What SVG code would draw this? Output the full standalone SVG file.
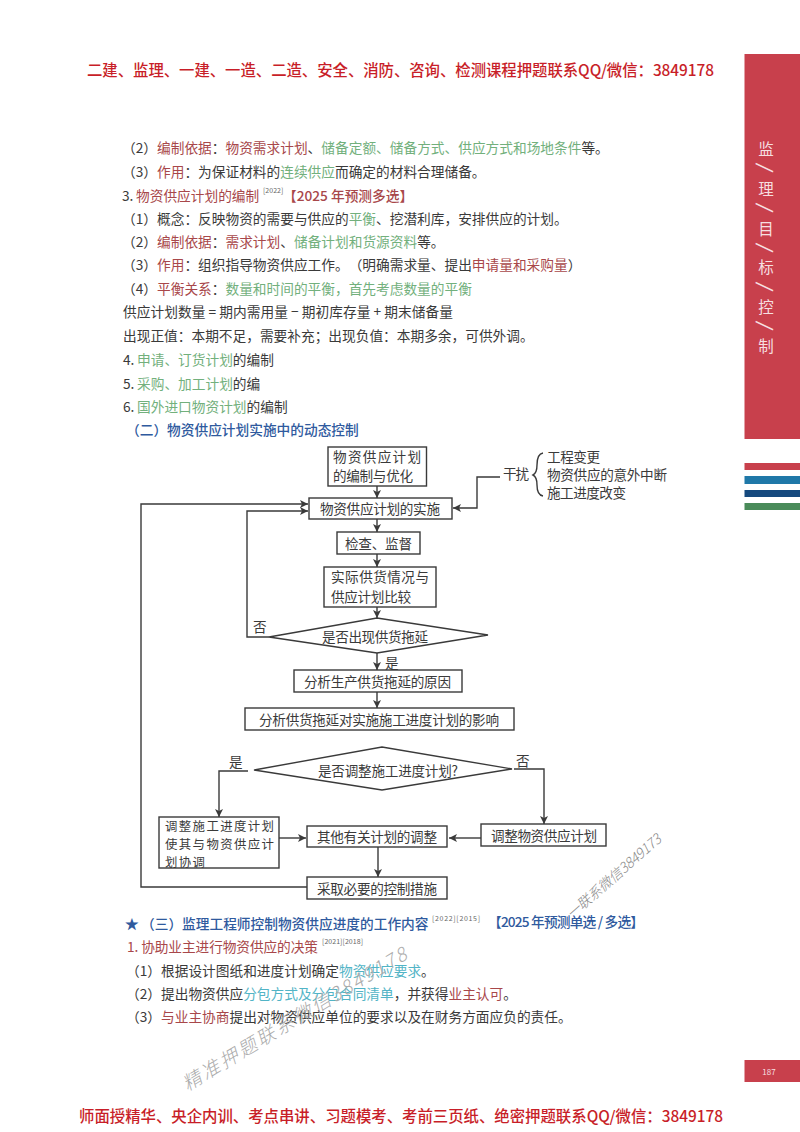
<svg xmlns="http://www.w3.org/2000/svg" width="800" height="1132" viewBox="0 0 800 1132">
<style>
text{font-family:"Noto Sans CJK SC","Noto Sans",sans-serif;dominant-baseline:central;text-spacing-trim:space-all}
.b{font-size:13.7px;fill:#3a3a3a}
.r{fill:#a8474a}
.g{fill:#72b07c}
.t{fill:#52b4c6}
.h{fill:#2f5a9e;font-weight:500}
.s{font-size:7px;fill:#666}
.f{font-size:13.6px;fill:#3a3a3a}
.f3{font-size:12.4px;fill:#3a3a3a}
.top{font-size:15.4px;fill:#c81e28;font-weight:500}
.side{font-size:15.5px;fill:#f6dfe0;text-anchor:middle}
.sl{font-size:19px;fill:#f6dfe0;text-anchor:middle;font-weight:500}
.wm{font-style:italic;fill:#ababab;font-weight:300}
.n{fill:#fff;stroke:#3a3a3a;stroke-width:1.4}
.c{fill:none;stroke:#3a3a3a;stroke-width:1.4}
.a{marker-end:url(#ah)}
</style>
<defs>
<marker id="ah" markerWidth="9" markerHeight="8" refX="8" refY="4" orient="auto" markerUnits="userSpaceOnUse"><path d="M0,0 L8,4 L0,8 L2,4 Z" fill="#3a3a3a"/></marker>
</defs>
<rect width="800" height="1132" fill="#fff"/>
<text class="top" x="87" y="68.500" textLength="627">二建、监理、一建、一造、二造、安全、消防、咨询、检测课程押题联系QQ/微信：3849178</text>
<text class="top" x="79" y="1115" textLength="644">师面授精华、央企内训、考点串讲、习题模考、考前三页纸、绝密押题联系QQ/微信：3849178</text>

<g id="side-tab">
<rect x="744.5" y="54" width="55.5" height="385" fill="#c8404c"/>
<text class="side" x="766" y="148">监</text>
<text class="sl" transform="translate(767 168) rotate(100)">/</text>
<text class="side" x="766" y="188">理</text>
<text class="sl" transform="translate(767 208) rotate(100)">/</text>
<text class="side" x="766" y="228">目</text>
<text class="sl" transform="translate(767 248) rotate(100)">/</text>
<text class="side" x="766" y="266">标</text>
<text class="sl" transform="translate(767 287) rotate(100)">/</text>
<text class="side" x="766" y="306">控</text>
<text class="sl" transform="translate(767 326) rotate(100)">/</text>
<text class="side" x="766" y="345">制</text>
<rect x="744.5" y="463" width="55.5" height="7" fill="#c8404c"/>
<rect x="744.5" y="476" width="55.5" height="8" fill="#1f78a8"/>
<rect x="744.5" y="490" width="55.5" height="7" fill="#15497e"/>
<rect x="744.5" y="503" width="55.5" height="7" fill="#4a8b5a"/>
<rect x="744.5" y="1060" width="55.5" height="22" fill="#c8404c"/>
<text x="769" y="1071" font-size="8" fill="#f6dfe0" text-anchor="middle">187</text>
</g>

<g id="body-top" transform="translate(0 -1)">
<text class="b" y="148"><tspan x="122">（2）</tspan><tspan x="157" class="r">编制依据</tspan>：<tspan class="r">物资需求计划</tspan>、<tspan class="g">储备定额、储备方式、供应方式和场地条件</tspan>等。</text>
<text class="b" y="172"><tspan x="122">（3）</tspan><tspan x="157" class="r">作用</tspan>：为保证材料的<tspan class="g">连续供应</tspan>而确定的材料合理储备。</text>
<text class="b" y="196"><tspan x="122">3. </tspan><tspan x="136" class="r">物资供应计划的编制</tspan></text>
<text class="s" x="263" y="191">[2022]</text>
<text class="b r" x="283" y="196" font-weight="500">【2025 年预测多选】</text>
<text class="b" y="219"><tspan x="122">（1）</tspan><tspan x="157">概念：反映物资的需要与供应的</tspan><tspan class="g">平衡</tspan>、挖潜利库，安排供应的计划。</text>
<text class="b" y="242"><tspan x="122">（2）</tspan><tspan x="157" class="r">编制依据</tspan>：<tspan class="r">需求计划</tspan>、<tspan class="g">储备计划和货源资料</tspan>等。</text>
<text class="b" y="265"><tspan x="122">（3）</tspan><tspan x="157" class="r">作用</tspan>：组织指导物资供应工作。（明确需求量、提出<tspan class="r">申请量和采购量</tspan>）</text>
<text class="b" y="289"><tspan x="122">（4）</tspan><tspan x="157" class="r">平衡关系</tspan>：<tspan class="g">数量和时间的平衡，首先考虑数量的平衡</tspan></text>
<text class="b" x="123" y="312" textLength="330">供应计划数量 = 期内需用量 − 期初库存量 + 期末储备量</text>
<text class="b" x="123" y="336">出现正值：本期不足，需要补充；出现负值：本期多余，可供外调。</text>
<text class="b" y="360"><tspan x="123">4. </tspan><tspan x="137" class="g">申请、订货计划</tspan>的编制</text>
<text class="b" y="384"><tspan x="123">5. </tspan><tspan x="137" class="g">采购、加工计划</tspan>的编</text>
<text class="b" y="407"><tspan x="123">6. </tspan><tspan x="137" class="g">国外进口物资计划</tspan>的编制</text>
<text class="b h" x="126" y="430">（二）物资供应计划实施中的动态控制</text>
</g>

<g id="connectors">
<path class="c a" d="M377 486V498"/>
<path class="c a" d="M377 519V532"/>
<path class="c a" d="M377 554V567"/>
<path class="c a" d="M377 607V618"/>
<path class="c a" d="M377 653V670"/>
<path class="c a" d="M377 692V708"/>
<path class="c a" d="M500 477H477V508H453"/>
<path class="c a" d="M269 637H247V511H308"/>
<path class="c a" d="M307 887H141V504H308"/>
<path class="c a" d="M248 771H219V817"/>
<path class="c a" d="M514 769H544V824"/>
<path class="c a" d="M279 838H306"/>
<path class="c a" d="M481 838H449"/>
<path class="c a" d="M378 847V877"/>
<path class="c" d="M543 453Q537 454 537 465Q537 473 533 475Q537 477 537 485Q537 495 543 496"/>
</g>

<g id="n1"><rect class="n" x="328" y="447" width="98.500" height="39"/><text class="f" x="333" y="456" textLength="88">物资供应计划</text><text class="f" x="333" y="475" textLength="80">的编制与优化</text></g>
<g id="n2"><rect class="n" x="309" y="498" width="143" height="21"/><text class="f" x="320" y="508" textLength="120">物资供应计划的实施</text></g>
<g id="n3"><rect class="n" x="337" y="532" width="83" height="22"/><text class="f" x="345" y="543" textLength="67">检查、监督</text></g>
<g id="n4"><rect class="n" x="324" y="567" width="112" height="40"/><text class="f" x="331" y="576" textLength="98">实际供货情况与</text><text class="f" x="331" y="596" textLength="80">供应计划比较</text></g>
<g id="n5"><polygon class="n" points="269,637 377,618 488,635 377,653"/><text class="f" x="322" y="636" textLength="106">是否出现供货拖延</text></g>
<g id="n6"><rect class="n" x="294" y="670" width="168" height="22"/><text class="f" x="304" y="681" textLength="147">分析生产供货拖延的原因</text></g>
<g id="n7"><rect class="n" x="245" y="708" width="269" height="22"/><text class="f" x="259" y="719" textLength="240">分析供货拖延对实施施工进度计划的影响</text></g>
<g id="n8"><polygon class="n" points="254,770 382,747 512,769 382,790"/><text class="f" x="318" y="770" textLength="140">是否调整施工进度计划?</text></g>
<g id="n9"><rect class="n" x="159" y="817" width="120" height="51"/><text class="f3" x="165" y="826" textLength="109">调整施工进度计划</text><text class="f3" x="165" y="844" textLength="109">使其与物资供应计</text><text class="f3" x="165" y="860" textLength="40" dy="2">划协调</text></g>
<g id="n10"><rect class="n" x="307" y="826" width="140" height="21"/><text class="f" x="317" y="836" textLength="120">其他有关计划的调整</text></g>
<g id="n11"><rect class="n" x="481" y="824" width="125" height="22"/><text class="f" x="491" y="835" textLength="106">调整物资供应计划</text></g>
<g id="n12"><rect class="n" x="307" y="877" width="140" height="22"/><text class="f" x="317" y="888" textLength="120">采取必要的控制措施</text></g>

<g id="labels">
<text class="f" x="503" y="473" textLength="26">干扰</text>
<text class="f" x="547" y="456" textLength="53">工程变更</text>
<text class="f" x="547" y="474" textLength="120">物资供应的意外中断</text>
<text class="f" x="547" y="492" textLength="79">施工进度改变</text>
<text class="f" x="253" y="626">否</text>
<text class="f" x="385" y="662">是</text>
<text class="f" x="229" y="761">是</text>
<text class="f" x="516" y="760">否</text>
</g>

<g id="body-bottom" transform="translate(0 -1)">
<text class="b h" x="125" y="924">★</text>
<text class="b h" x="141" y="924">（三）监理工程师控制物资供应进度的工作内容</text>
<text class="s" x="432" y="919" textLength="48">[2022][2015]</text>
<text class="b h" x="488" y="922" textLength="156">【2025 年预测单选 / 多选】</text>
<text class="b r" x="127" y="947" textLength="191">1. 协助业主进行物资供应的决策</text>
<text class="s" x="322" y="942" textLength="41">[2021][2018]</text>
<text class="b" y="971"><tspan x="126">（1）</tspan><tspan x="161">根据设计图纸和进度计划确定</tspan><tspan class="t">物资供应要求</tspan>。</text>
<text class="b" y="994"><tspan x="126">（2）</tspan><tspan x="161">提出物资供应</tspan><tspan class="t">分包方式及分包合同清单</tspan>，并获得<tspan class="r">业主认可</tspan>。</text>
<text class="b" y="1017"><tspan x="126">（3）</tspan><tspan x="161" class="r">与业主协商</tspan>提出对物资供应单位的要求以及在财务方面应负的责任。</text>
</g>

<g id="watermarks">
<text class="wm" font-size="19" transform="translate(183 1084) rotate(-31)" textLength="258">精准押题联系微信3849178</text>
<text class="wm" font-size="14" transform="translate(568 915) rotate(-41)" textLength="120" style="fill:#8a8a8a">一联系微信3849173</text>
</g>
</svg>
